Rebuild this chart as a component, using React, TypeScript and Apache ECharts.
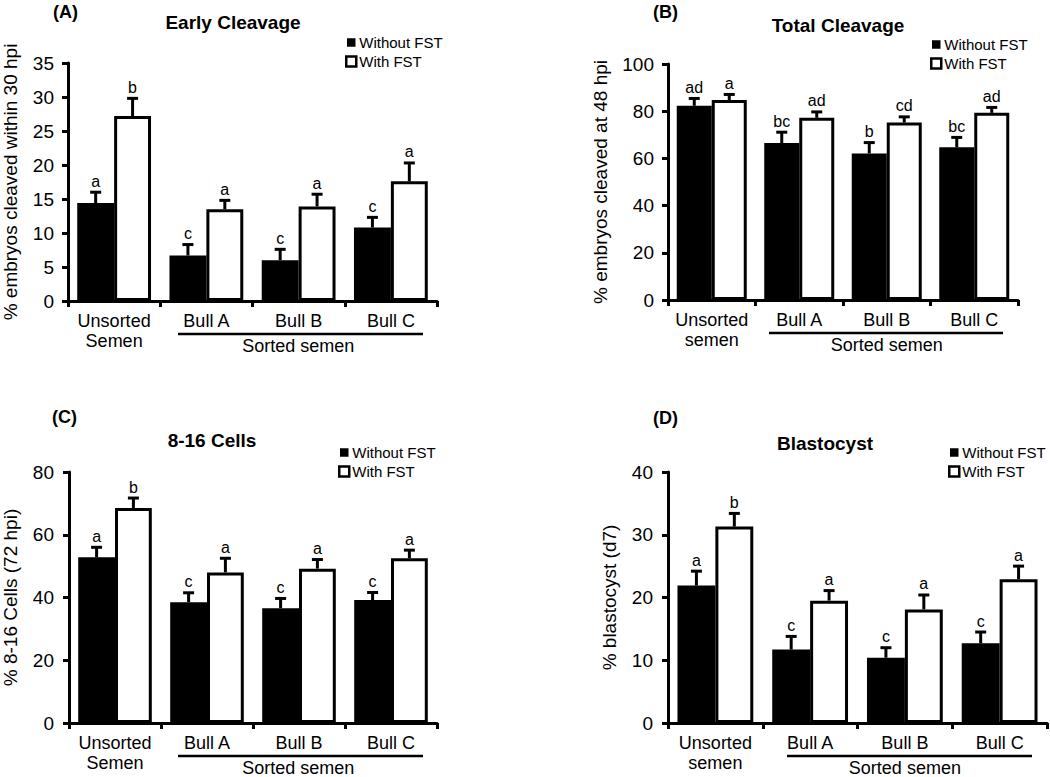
import React, { useEffect, useRef } from "react";
import * as echarts from "echarts";

const FONT = "'Liberation Sans', Arial, Helvetica, sans-serif";

// Categories
const categoriesUpper = ["Unsorted\nSemen", "Bull A", "Bull B", "Bull C"];
const categoriesLower = ["Unsorted\nsemen", "Bull A", "Bull B", "Bull C"];

// Series names
const seriesNames = ["Without FST", "With FST"];

// (A) Early Cleavage
const earlyWithout = [14.4, 6.7, 6.0, 10.8];
const earlyWithoutErr = [1.6, 1.6, 1.6, 1.5];
const earlyWithoutLetters = ["a", "c", "c", "c"];
const earlyWith = [27.2, 13.5, 13.9, 17.6];
const earlyWithErr = [2.6, 1.3, 1.8, 2.7];
const earlyWithLetters = ["b", "a", "a", "a"];

// (B) Total Cleavage
const totalWithout = [82.3, 66.5, 62.1, 64.7];
const totalWithoutErr = [3.1, 4.6, 4.6, 4.2];
const totalWithoutLetters = ["ad", "bc", "b", "bc"];
const totalWith = [84.7, 77.2, 75.2, 79.3];
const totalWithErr = [2.4, 2.5, 2.4, 2.3];
const totalWithLetters = ["a", "ad", "cd", "ad"];

// (C) 8-16 Cells
const cellsWithout = [52.8, 38.5, 36.6, 39.2];
const cellsWithoutErr = [3.2, 3.0, 3.1, 2.4];
const cellsWithoutLetters = ["a", "c", "c", "c"];
const cellsWith = [68.5, 48.0, 49.2, 52.5];
const cellsWithErr = [3.2, 4.5, 2.9, 2.6];
const cellsWithLetters = ["b", "a", "a", "a"];

// (D) Blastocyst
const blastWithout = [21.9, 11.7, 10.4, 12.7];
const blastWithoutErr = [2.3, 2.1, 1.6, 1.8];
const blastWithoutLetters = ["a", "c", "c", "c"];
const blastWith = [31.3, 19.5, 18.1, 22.9];
const blastWithErr = [2.1, 1.6, 2.3, 2.1];
const blastWithLetters = ["b", "a", "a", "a"];

// Panel texts
const panelTitles = ["Early Cleavage", "Total Cleavage", "8-16 Cells", "Blastocyst"];
const panelTags = ["(A)", "(B)", "(C)", "(D)"];
const yNames = [
  "% embryos cleaved within 30 hpi",
  "% embryos cleaved at 48 hpi",
  "% 8-16 Cells (72 hpi)",
  "% blastocyst (d7)",
];
const yMax = [35, 100, 80, 40];
const yInterval = [5, 20, 20, 10];
const groupLabel = "Sorted semen";

const panels = [
  {
    grid: { left: 67, top: 63, width: 370, height: 238 },
    cats: categoriesUpper,
    nameGap: 48,
    labelMargin: 14,
    wo: earlyWithout, woErr: earlyWithoutErr, woL: earlyWithoutLetters,
    wi: earlyWith, wiErr: earlyWithErr, wiL: earlyWithLetters,
    titleX: 233, titleY: 22, tagX: 53, tagY: 12,
    legendX: 345, legendY: 35,
    lineX1: 178, lineX2: 423,
  },
  {
    grid: { left: 668, top: 64, width: 350, height: 236 },
    cats: categoriesLower,
    nameGap: 58,
    labelMargin: 14,
    wo: totalWithout, woErr: totalWithoutErr, woL: totalWithoutLetters,
    wi: totalWith, wiErr: totalWithErr, wiL: totalWithLetters,
    titleX: 838, titleY: 25, tagX: 653, tagY: 12,
    legendX: 930, legendY: 37,
    lineX1: 769, lineX2: 1003,
  },
  {
    grid: { left: 67, top: 472, width: 370, height: 251 },
    cats: categoriesUpper,
    nameGap: 49,
    labelMargin: 15,
    wo: cellsWithout, woErr: cellsWithoutErr, woL: cellsWithoutLetters,
    wi: cellsWith, wiErr: cellsWithErr, wiL: cellsWithLetters,
    titleX: 212, titleY: 440, tagX: 52, tagY: 417,
    legendX: 338, legendY: 445,
    lineX1: 178, lineX2: 423,
  },
  {
    grid: { left: 668, top: 472, width: 379, height: 251 },
    cats: categoriesLower,
    nameGap: 49,
    labelMargin: 15,
    wo: blastWithout, woErr: blastWithoutErr, woL: blastWithoutLetters,
    wi: blastWith, wiErr: blastWithErr, wiL: blastWithLetters,
    titleX: 825, titleY: 443, tagX: 653, tagY: 418,
    legendX: 948, legendY: 445,
    lineX1: 787, lineX2: 1032,
  },
];

function errorSeries(i: number, name: string, values: number[], errs: number[], letters: string[], sign: number) {
  return {
    type: "custom",
    name,
    xAxisIndex: i,
    yAxisIndex: i,
    z: 5,
    silent: true,
    encode: { x: 0, y: 1 },
    data: values.map((v, j) => [j, v, errs[j]]),
    renderItem: (params: any, api: any) => {
      const idx = api.value(0);
      const v = api.value(1);
      const e = api.value(2);
      const base = api.coord([idx, v]);
      const top = api.coord([idx, v + e]);
      const catW = api.size([1, 0])[0];
      const bw = (catW * 0.8) / 2;
      const x = base[0] + (sign * bw) / 2;
      return {
        type: "group",
        children: [
          { type: "line", shape: { x1: x, y1: base[1], x2: x, y2: top[1] }, style: { stroke: "#000", lineWidth: 3 } },
          { type: "line", shape: { x1: x - 5.5, y1: top[1], x2: x + 5.5, y2: top[1] }, style: { stroke: "#000", lineWidth: 3 } },
          {
            type: "text",
            x,
            y: top[1] - 3,
            style: {
              text: letters[params.dataIndex],
              fill: "#000",
              fontSize: 16,
              fontFamily: FONT,
              align: "center",
              verticalAlign: "bottom",
            },
          },
        ],
      };
    },
  };
}

export default function App() {
  const ref = useRef<HTMLDivElement>(null);

  useEffect(() => {
    if (!ref.current) return;
    const chart = echarts.init(ref.current, null, { renderer: "svg" });

    const grids: any[] = [];
    const xAxes: any[] = [];
    const yAxes: any[] = [];
    const series: any[] = [];
    const legends: any[] = [];
    const graphics: any[] = [];

    panels.forEach((p, i) => {
      grids.push({ ...p.grid, containLabel: false });
      xAxes.push({
        type: "category",
        gridIndex: i,
        data: p.cats,
        axisLine: { lineStyle: { color: "#000", width: 3 } },
        axisTick: { show: true, length: 6, lineStyle: { color: "#000", width: 3 } },
        axisLabel: { interval: 0, fontSize: 18, lineHeight: 20, color: "#000", fontFamily: FONT, margin: 10 },
        splitLine: { show: false },
      });
      yAxes.push({
        type: "value",
        gridIndex: i,
        min: 0,
        max: yMax[i],
        interval: yInterval[i],
        axisLine: { show: true, lineStyle: { color: "#000", width: 3 } },
        axisTick: { show: true, length: 6, lineStyle: { color: "#000", width: 3 } },
        axisLabel: { fontSize: 19, color: "#000", fontFamily: FONT, margin: p.labelMargin },
        splitLine: { show: false },
        name: yNames[i],
        nameLocation: "middle",
        nameGap: p.nameGap,
        nameTextStyle: { fontSize: 19, color: "#000", fontFamily: FONT },
      });
      series.push({
        type: "bar",
        name: seriesNames[0],
        xAxisIndex: i,
        yAxisIndex: i,
        data: p.wo,
        barGap: "0%",
        barCategoryGap: "20%",
        itemStyle: { color: "#000", borderColor: "#000", borderWidth: 2 },
      });
      series.push({
        type: "bar",
        name: seriesNames[1],
        xAxisIndex: i,
        yAxisIndex: i,
        data: p.wi,
        barGap: "0%",
        barCategoryGap: "20%",
        itemStyle: { color: "#fff", borderColor: "#000", borderWidth: 3 },
      });
      series.push(errorSeries(i, "err-wo-" + i, p.wo, p.woErr, p.woL, -1));
      series.push(errorSeries(i, "err-wi-" + i, p.wi, p.wiErr, p.wiL, 1));

      legends.push({
        orient: "vertical",
        left: p.legendX,
        top: p.legendY,
        padding: 0,
        itemGap: 4,
        itemWidth: 10,
        itemHeight: 10,
        selectedMode: false,
        textStyle: { fontSize: 15, color: "#000", fontFamily: FONT, padding: [0, 0, 0, -2] },
        data: [
          { name: seriesNames[0], icon: "rect", itemStyle: { color: "#000", borderColor: "#fff", borderWidth: 1.5 } },
          { name: seriesNames[1], icon: "rect", itemStyle: { color: "#fff", borderColor: "#000", borderWidth: 2.5 } },
        ],
      });

      const axisY = p.grid.top + p.grid.height;
      graphics.push({
        type: "text",
        x: p.titleX,
        y: p.titleY,
        style: { text: panelTitles[i], fill: "#000", fontSize: 19, fontWeight: "bold", fontFamily: FONT, align: "center", verticalAlign: "middle" },
      });
      graphics.push({
        type: "text",
        x: p.tagX,
        y: p.tagY,
        style: { text: panelTags[i], fill: "#000", fontSize: 18, fontWeight: "bold", fontFamily: FONT, align: "left", verticalAlign: "middle" },
      });
      graphics.push({
        type: "line",
        shape: { x1: p.lineX1, y1: axisY + 33, x2: p.lineX2, y2: axisY + 33 },
        style: { stroke: "#000", lineWidth: 2.5 },
      });
      const catW = p.grid.width / 4;
      graphics.push({
        type: "text",
        x: p.grid.left + catW + (catW * 3) / 2,
        y: axisY + 45,
        style: { text: groupLabel, fill: "#000", fontSize: 18, fontFamily: FONT, align: "center", verticalAlign: "middle" },
      });
    });

    chart.setOption({
      animation: false,
      backgroundColor: "#fff",
      textStyle: { fontFamily: FONT },
      grid: grids,
      xAxis: xAxes,
      yAxis: yAxes,
      legend: legends,
      series,
      graphic: graphics,
    });

    return () => chart.dispose();
  }, []);

  return (
    <div
      ref={ref}
      style={{ position: "absolute", left: 0, top: 0, width: 1050, height: 777, background: "#fff" }}
    />
  );
}
